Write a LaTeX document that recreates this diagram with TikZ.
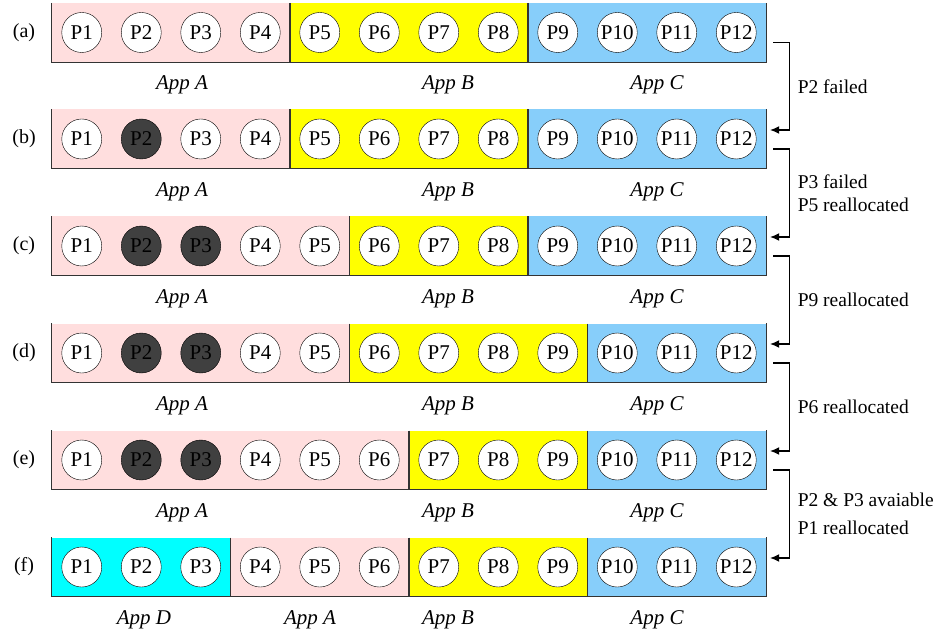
\documentclass[tikz,border=0pt]{standalone}
\usepackage{fontspec}
\setmainfont{Liberation Serif}
\usepackage{xcolor}
\usetikzlibrary{arrows.meta}

\definecolor{appA}{RGB}{255,222,222}
\definecolor{appB}{RGB}{255,255,0}
\definecolor{appC}{RGB}{135,206,250}
\definecolor{appD}{RGB}{0,255,255}
\definecolor{deadgray}{RGB}{64,64,64}

\begin{document}
\begin{tikzpicture}[
    x=1pt, y=-1pt,
    font=\fontsize{20}{23}\selectfont,
    proc/.style={draw, circle, fill=white, minimum size=40pt, inner sep=0pt, font=\fontsize{21}{23}\selectfont},
    dead/.style={proc, fill=deadgray},
    st0/.style={proc},
    st1/.style={dead},
    bar/.style={minimum width=714pt, minimum height=59pt, inner sep=0pt},
    edge/.style={draw=black!80, line width=1.3pt},
    app/.style={font=\fontsize{21}{23}\selectfont\itshape},
    arrow/.style={-{Latex[length=9pt,width=8pt]}, line width=1.1pt},
    note/.style={anchor=west, align=left, inner sep=0pt, xshift=8pt, font=\fontsize{19.5}{23}\selectfont}
]
\useasboundingbox (0,0) rectangle (936,636);

% rows: name / centre y / cyan end / pink end / yellow end / dead from / dead to / x of App A
\foreach \r/\yy/\d/\p/\q/\lo/\hi/\ax in {a/32.5/0/4/8/0/0/182, b/139/0/4/8/2/2/182,
    c/246/0/5/8/2/3/182, d/353/0/5/9/2/3/182, e/460/0/6/9/2/3/182, f/567/3/6/9/0/0/310} {
  \node[bar] (row\r) at (409,\yy) {};
  \fill[appD] ({52},{\yy-29.5}) rectangle ({52+59.5*\d},{\yy+29.5});
  \fill[appA] ({52+59.5*\d},{\yy-29.5}) rectangle ({52+59.5*\p},{\yy+29.5});
  \fill[appB] ({52+59.5*\p},{\yy-29.5}) rectangle ({52+59.5*\q},{\yy+29.5});
  \fill[appC] ({52+59.5*\q},{\yy-29.5}) rectangle ({766},{\yy+29.5});
  \draw[edge] (row\r.north west) -- (row\r.south west) -- (row\r.south east) -- (row\r.north east);
  \draw[edge] ({52+59.5*\p},{\yy-29.5}) -- ({52+59.5*\p},{\yy+29.5});
  \draw[edge] ({52+59.5*\q},{\yy-29.5}) -- ({52+59.5*\q},{\yy+29.5});
  \node (lbl\r) at (24,\yy) {(\r)};
  \foreach \i in {1,...,12} {
    \pgfmathtruncatemacro\isdead{and(\i>=\lo,\i<=\hi)}
    \node[st\isdead] (\r\i) at ({52+59.5*(\i-0.5)},\yy) {P\i};
  }
  \node[app] (appA\r) at (\ax,\yy+52.5) {App A};
  \node[app] (appB\r) at (448,\yy+52.5) {App B};
  \node[app] (appC\r) at (657,\yy+52.5) {App C};
}
\draw[edge] (230.5,537.5) -- (230.5,596.5);
\node[app] (appDf) at (144,619.5) {App D};

% transitions
\draw[arrow] ([shift={(7pt,-10pt)}]rowa.east) -- ++(16pt,0pt)
  |- ([shift={(4pt,9pt)}]rowb.east) node[note, pos=0.25] {P2 failed};
\draw[arrow] ([shift={(7pt,-10pt)}]rowb.east) -- ++(16pt,0pt)
  |- ([shift={(4pt,9pt)}]rowc.east) node[note, pos=0.25] {P3 failed\\P5 reallocated};
\draw[arrow] ([shift={(7pt,-10pt)}]rowc.east) -- ++(16pt,0pt)
  |- ([shift={(4pt,9pt)}]rowd.east) node[note, pos=0.25] {P9 reallocated};
\draw[arrow] ([shift={(7pt,-10pt)}]rowd.east) -- ++(16pt,0pt)
  |- ([shift={(4pt,9pt)}]rowe.east) node[note, pos=0.25] {P6 reallocated};
\draw[arrow] ([shift={(7pt,-10pt)}]rowe.east) -- ++(16pt,0pt)
  |- ([shift={(4pt,9pt)}]rowf.east) node[note, pos=0.25] {P2 \& P3 avaiable\\[5pt]P1 reallocated};
\end{tikzpicture}
\end{document}
